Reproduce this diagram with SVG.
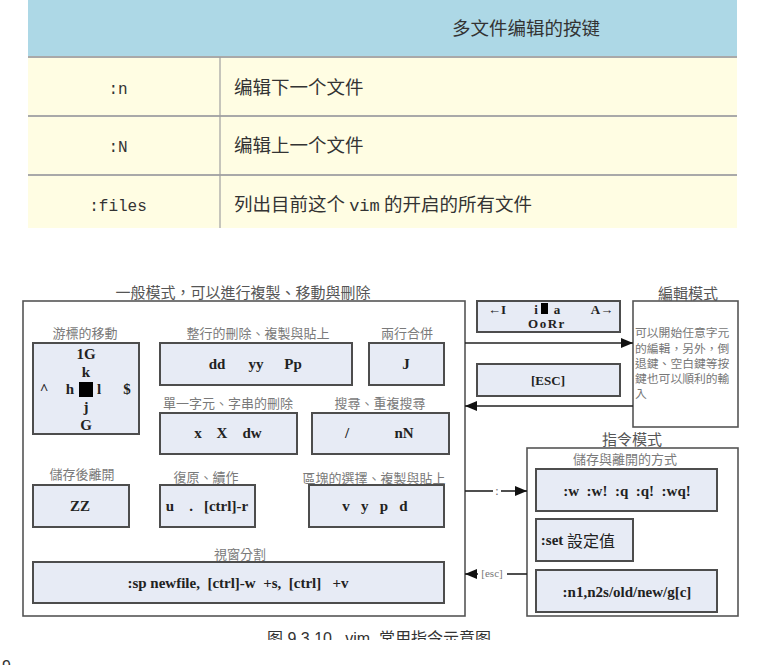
<svg xmlns="http://www.w3.org/2000/svg" width="763" height="665" viewBox="0 0 763 665">
<style>
.cell{fill:#fffde3}
.sep{stroke:#a9a9a9;stroke-width:2}
.mono{font-family:"Liberation Mono","DejaVu Sans Mono",monospace;font-size:16px;fill:#333}
.cn{font-family:"Noto Sans CJK SC",sans-serif;font-size:18.5px;fill:#333}
.frame{fill:#fff;stroke:#555;stroke-width:1.6}
.box{fill:#e7ebf5;stroke:#4d4d4d;stroke-width:2}
.lbl{font-family:"Noto Sans CJK TC",sans-serif;font-size:13px;fill:#7a7a7a;text-anchor:middle;dominant-baseline:central}
.ttl{font-family:"Noto Sans CJK TC",sans-serif;font-size:15px;fill:#555;text-anchor:middle;dominant-baseline:central}
.key{font-family:"Liberation Serif","Noto Sans CJK TC",serif;font-weight:bold;font-size:15px;fill:#222;text-anchor:middle;dominant-baseline:central}
.small{font-size:13px}
.desc{font-family:"Noto Sans CJK TC",sans-serif;font-size:11.8px;fill:#777}
.conn{stroke:#222;stroke-width:1.6;fill:none}
</style>
<defs>
<marker id="ah" viewBox="0 0 12 10" refX="12" refY="5" markerWidth="12" markerHeight="10" orient="auto" markerUnits="userSpaceOnUse">
<path d="M0,0 L12,5 L0,10 z" fill="#111"/>
</marker>
<clipPath id="capclip"><rect x="0" y="620" width="763" height="20"/></clipPath>
</defs>
<rect width="763" height="665" fill="#fff"/>

<g id="table">
<rect x="28" y="0" width="709" height="57" fill="#add8e6"/>
<rect class="cell" x="28" y="57" width="709" height="171"/>
<line class="sep" x1="28" y1="57" x2="737" y2="57"/>
<line class="sep" x1="28" y1="116" x2="737" y2="116"/>
<line class="sep" x1="28" y1="175" x2="737" y2="175"/>
<line x1="220" y1="57" x2="220" y2="228" stroke="#a0a0a0" stroke-width="1.2"/>
<text class="cn" x="452" y="35">多文件编辑的按键</text>
<text class="mono" x="118" y="94" text-anchor="middle">:n</text>
<text class="cn" x="234" y="94">编辑下一个文件</text>
<text class="mono" x="118" y="152" text-anchor="middle">:N</text>
<text class="cn" x="234" y="152">编辑上一个文件</text>
<text class="mono" x="118" y="211" text-anchor="middle">:files</text>
<text class="cn" x="234" y="211">列出目前这个 <tspan class="mono" style="font-size:17px">vim</tspan> 的开启的所有文件</text>
</g>

<g id="normal-mode">
<text class="ttl" x="243" y="291">一般模式，可以進行複製、移動與刪除</text>
<rect class="frame" x="23" y="301" width="442" height="315"/>
</g>

<g id="cursor-move">
<text class="lbl" x="85" y="332">游標的移動</text>
<rect class="box" x="33" y="343" width="106" height="91"/>
<text class="key" x="86" y="354">1G</text>
<text class="key" x="86" y="372">k</text>
<text class="key" x="44" y="389">^</text>
<text class="key" x="70" y="389">h</text>
<rect x="79" y="382" width="14" height="15" fill="#000"/>
<text class="key" x="99" y="389">l</text>
<text class="key" x="127" y="389">$</text>
<text class="key" x="86" y="407">j</text>
<text class="key" x="86" y="425">G</text>
</g>

<g id="line-ops">
<text class="lbl" x="258" y="332">整行的刪除、複製與貼上</text>
<rect class="box" x="160" y="343" width="192" height="42"/>
<text class="key" x="217" y="364">dd</text>
<text class="key" x="256" y="364">yy</text>
<text class="key" x="293" y="364">Pp</text>
</g>

<g id="join">
<text class="lbl" x="407" y="332">兩行合併</text>
<rect class="box" x="369" y="343" width="75" height="42"/>
<text class="key" x="406" y="364">J</text>
</g>

<g id="char-delete">
<text class="lbl" x="228" y="402">單一字元、字串的刪除</text>
<rect class="box" x="160" y="413" width="137" height="41"/>
<text class="key" x="198" y="433">x</text>
<text class="key" x="222" y="433">X</text>
<text class="key" x="252" y="433">dw</text>
</g>

<g id="search">
<text class="lbl" x="380" y="402">搜尋、重複搜尋</text>
<rect class="box" x="312" y="413" width="137" height="41"/>
<text class="key" x="347" y="433">/</text>
<text class="key" x="404" y="433">nN</text>
</g>

<g id="save-quit">
<text class="lbl" x="82" y="473">儲存後離開</text>
<rect class="box" x="33" y="485" width="96" height="42"/>
<text class="key" x="80" y="506">ZZ</text>
</g>

<g id="undo-redo">
<text class="lbl" x="206" y="476">復原、續作</text>
<rect class="box" x="160" y="485" width="95" height="42"/>
<text class="key" x="170" y="506">u</text>
<text class="key" x="191" y="506">.</text>
<text class="key" x="226" y="506">[ctrl]-r</text>
</g>

<g id="block-select">
<text class="lbl" x="374" y="477">區塊的選擇、複製與貼上</text>
<rect class="box" x="309" y="485" width="135" height="42"/>
<text class="key" x="375" y="506" xml:space="preserve">v   y   p   d</text>
</g>

<g id="window-split">
<text class="lbl" x="240" y="553">視窗分割</text>
<rect class="box" x="33" y="562" width="411" height="41"/>
<text class="key" x="238" y="583" xml:space="preserve">:sp newfile,  [ctrl]-w  +s,  [ctrl]   +v</text>
</g>

<g id="insert-keys">
<rect class="box" x="477" y="301" width="143" height="31"/>
<text class="key small" x="497" y="309">←I</text>
<text class="key small" x="536" y="309">i</text>
<rect x="541" y="303" width="7" height="11" fill="#000"/>
<text class="key small" x="557" y="309">a</text>
<text class="key small" x="602" y="309">A→</text>
<text class="key small" x="547" y="323" letter-spacing="1.5">OoRr</text>
</g>

<g id="esc-key">
<rect class="box" x="477" y="364" width="143" height="32"/>
<text class="key small" x="548" y="380">[ESC]</text>
</g>

<g id="edit-mode">
<text class="ttl" x="688" y="292">編輯模式</text>
<rect class="frame" x="633" y="301" width="105" height="126"/>
<text class="desc" x="635" y="337"><tspan x="635" y="337">可以開始任意字元</tspan><tspan x="635" y="353">的編輯，另外，倒</tspan><tspan x="635" y="368">退鍵、空白鍵等按</tspan><tspan x="635" y="383">鍵也可以順利的輸</tspan><tspan x="635" y="398">入</tspan></text>
</g>

<g id="command-mode">
<text class="ttl" x="632" y="438">指令模式</text>
<rect class="frame" x="527" y="448" width="211" height="168"/>
<text class="lbl" x="625" y="458">儲存與離開的方式</text>
</g>

<g id="write-quit">
<rect class="box" x="536" y="469" width="181" height="42"/>
<text class="key" x="627" y="491" xml:space="preserve">:w  :w!  :q  :q!  :wq!</text>
</g>

<g id="set">
<rect class="box" x="536" y="519" width="97" height="42"/>
<text class="key" x="578" y="540">:set <tspan style="font-family:'Noto Sans CJK TC',sans-serif;font-weight:normal;font-size:16px">設定值</tspan></text>
</g>

<g id="substitute">
<rect class="box" x="536" y="570" width="181" height="42"/>
<text class="key" x="627" y="592">:n1,n2s/old/new/g[c]</text>
</g>

<g id="connectors">
<line class="conn" x1="465" y1="343" x2="633" y2="343" marker-end="url(#ah)"/>
<line class="conn" x1="633" y1="406" x2="465" y2="406" marker-end="url(#ah)"/>
<line class="conn" x1="465" y1="491" x2="493" y2="491"/>
<line class="conn" x1="501" y1="491" x2="527" y2="491" marker-end="url(#ah)"/>
<text x="497" y="491" font-family="Liberation Serif,serif" font-size="12" fill="#666" text-anchor="middle" dominant-baseline="central">:</text>
<line class="conn" x1="527" y1="574" x2="507" y2="574"/>
<line class="conn" x1="478" y1="574" x2="465" y2="574" marker-end="url(#ah)"/>
<text x="492" y="573" font-family="Liberation Serif,serif" font-size="11" fill="#777" text-anchor="middle" dominant-baseline="central">[esc]</text>
</g>

<g id="caption" clip-path="url(#capclip)">
<text x="267" y="644" font-family="Liberation Sans,Noto Sans CJK SC,sans-serif" font-size="16" fill="#333" xml:space="preserve">图 9.3.10   vim  常用指令示意图</text>
</g>
<text x="2" y="672" font-family="Liberation Sans,sans-serif" font-size="16" fill="#333">9</text>
</svg>
